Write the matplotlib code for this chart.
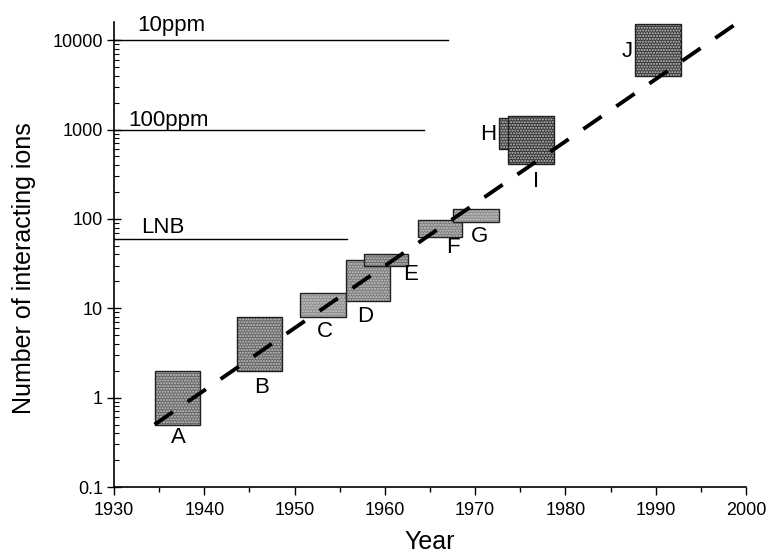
import numpy as np
import matplotlib.pyplot as plt
from matplotlib.patches import Rectangle
from matplotlib.ticker import LogLocator, FixedLocator, NullFormatter

plt.rcParams['font.family'] = ['Liberation Sans', 'DejaVu Sans']

# Экспериментальные области: годы (начало, конец) и число ионов (мин, макс)
labels = ['A', 'B', 'C', 'D', 'E', 'F', 'G', 'H', 'I', 'J']
year_lo = [1934.5, 1943.6, 1950.6, 1955.7, 1957.7, 1963.7, 1967.6, 1972.6, 1973.6, 1987.7]
year_hi = [1939.5, 1948.6, 1955.7, 1960.6, 1962.6, 1968.6, 1972.6, 1977.0, 1978.7, 1992.8]
ions_lo = [0.5, 2, 8, 12, 30, 62, 92, 610, 410, 4000]
ions_hi = [2, 8, 15, 35, 41, 97, 128, 1330, 1400, 15000]
shades = ['#666666', '#646464', '#8e8e8e', '#7a7a7a', '#6e6e6e',
          '#7e7e7e', '#8e8e8e', '#3c3c3c', '#323232', '#383838']

# Положение подписей
label_x = [1937.1, 1946.4, 1953.4, 1957.8, 1962.9, 1967.5, 1970.5, 1971.5, 1976.8, 1986.8]
label_y = [0.36, 1.3, 5.5, 8.0, 24, 48, 64, 880, 260, 7500]

# Горизонтальные уровни
lvl_names = ['10ppm', '100ppm', 'LNB']
lvl_ions = [10000, 1000, 60]
lvl_end = [1967.0, 1964.3, 1955.8]
lvl_text_x = [1932.6, 1931.6, 1933.0]
lvl_text_k = [1.26, 1.10, 1.17]

# Линия тренда
trend_years = [1934.5, 1999.2]
trend_ions = [0.5, 16000]

fig = plt.figure(figsize=(7.67, 5.55), dpi=100)
ax = fig.add_axes([0.1486, 0.1225, 0.824, 0.838])

for i in range(len(labels)):
    w = year_hi[i] - year_lo[i]
    h = ions_hi[i] - ions_lo[i]
    ax.add_patch(Rectangle((year_lo[i], ions_lo[i]), w, h, facecolor=shades[i],
                           edgecolor='#c8c8c8', hatch='......', lw=0, zorder=2))
    ax.add_patch(Rectangle((year_lo[i], ions_lo[i]), w, h, fill=False,
                           edgecolor='#202020', lw=1.0, zorder=2))
    ax.text(label_x[i], label_y[i], labels[i], fontsize=16, ha='center', va='center', zorder=4)

for name, v, xe, xt, k in zip(lvl_names, lvl_ions, lvl_end, lvl_text_x, lvl_text_k):
    ax.plot([1930, xe], [v, v], color='black', lw=1.0, zorder=1)
    ax.text(xt, v * k, name, fontsize=16, ha='left', va='baseline')

ax.plot(trend_years, trend_ions, color='black', lw=2.8, dashes=(5.7, 4.6), zorder=3)

ax.set_yscale('log')
ax.set_xlim(1930, 2000)
ax.set_ylim(0.1, 16000)

ax.xaxis.set_major_locator(FixedLocator(np.arange(1930, 2001, 10)))
ax.xaxis.set_minor_locator(FixedLocator(np.arange(1935, 2000, 10)))
ax.yaxis.set_minor_locator(LogLocator(base=10, subs=np.arange(2, 10), numticks=10))
ax.yaxis.set_minor_formatter(NullFormatter())
ax.set_yticks([0.1, 1, 10, 100, 1000, 10000])
ax.set_yticklabels(['0.1', '1', '10', '100', '1000', '10000'])

ax.tick_params(axis='x', which='major', direction='out', length=6, width=1, labelsize=13, pad=5)
ax.tick_params(axis='x', which='minor', direction='out', length=3.5, width=1)
ax.tick_params(axis='y', which='major', direction='inout', length=10, width=1, labelsize=13, pad=3)
ax.tick_params(axis='y', which='minor', direction='in', length=3.5, width=0.8)

for s in ['top', 'right']:
    ax.spines[s].set_visible(False)
for s in ['left', 'bottom']:
    ax.spines[s].set_linewidth(1.2)

ax.set_xlabel('Year', fontsize=18, labelpad=8)
ax.set_ylabel('Number of interacting ions', fontsize=18)
ax.yaxis.set_label_coords(-0.123, 0.471)

plt.savefig('out.png', dpi=100)
